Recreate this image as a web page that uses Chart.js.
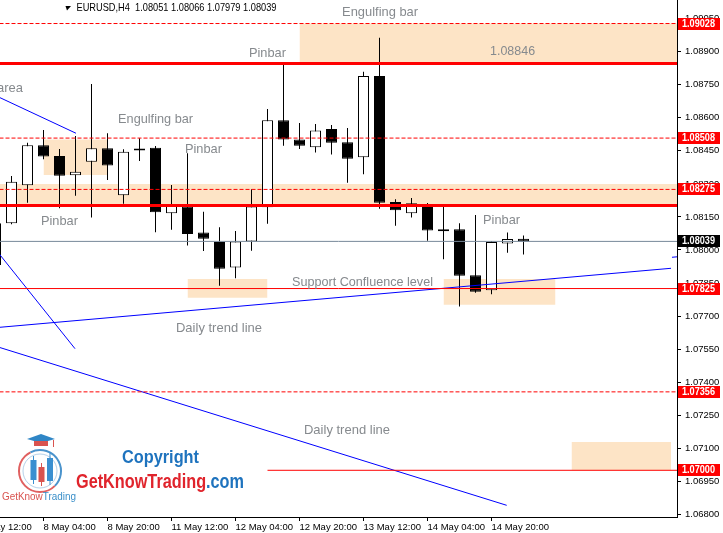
<!DOCTYPE html>
<html><head><meta charset="utf-8">
<script src="https://cdn.jsdelivr.net/npm/chart.js@4.4.1/dist/chart.umd.min.js"></script>
<style>html,body{margin:0;padding:0;background:#fff;overflow:hidden}canvas{display:block}</style>
</head><body>
<canvas id="c" width="723" height="533"></canvas>
<script>
// ---------- data ----------
const symbol = 'EURUSD,H4';
const barTimes = ['7 May 16:00','7 May 20:00','8 May 00:00','8 May 04:00','8 May 08:00','8 May 12:00','8 May 16:00','8 May 20:00',
  '11 May 00:00','11 May 04:00','11 May 08:00','11 May 12:00','11 May 16:00','11 May 20:00',
  '12 May 00:00','12 May 04:00','12 May 08:00','12 May 12:00','12 May 16:00','12 May 20:00',
  '13 May 00:00','13 May 04:00','13 May 08:00','13 May 12:00','13 May 16:00','13 May 20:00',
  '14 May 00:00','14 May 04:00','14 May 08:00','14 May 12:00','14 May 16:00','14 May 20:00',
  '15 May 00:00','15 May 04:00'];
const openP  = [1.07932,1.08121,1.08294,1.08475,1.08427,1.08339,1.08401,1.08462,1.08248,1.08452,1.08464,1.08167,1.08197,1.08079,1.08036,1.07921,1.08039,1.08194,1.08589,1.08502,1.08466,1.08549,1.08489,1.08421,1.08790,1.08218,1.08167,1.08204,1.08085,1.08094,1.07885,1.07817,1.08030,1.08051];
const highP  = [1.08130,1.08336,1.08487,1.08545,1.08458,1.08517,1.08753,1.08530,1.08457,1.08507,1.08472,1.08295,1.08439,1.08174,1.08103,1.08086,1.08276,1.08640,1.08844,1.08576,1.08572,1.08567,1.08554,1.08809,1.08964,1.08230,1.08236,1.08213,1.08197,1.08121,1.08159,1.08041,1.08079,1.08066];
const lowP   = [1.07915,1.08117,1.08215,1.08412,1.08189,1.08246,1.08147,1.08318,1.08210,1.08404,1.08080,1.08092,1.08020,1.07995,1.07838,1.07872,1.07997,1.08119,1.08473,1.08458,1.08442,1.08433,1.08305,1.08344,1.08187,1.08110,1.08147,1.08042,1.07958,1.07743,1.07806,1.07799,1.07988,1.07979];
const closeP = [1.08121,1.08310,1.08475,1.08424,1.08337,1.08355,1.08462,1.08384,1.08446,1.08461,1.08171,1.08204,1.08073,1.08051,1.07915,1.08039,1.08197,1.08589,1.08502,1.08473,1.08542,1.08487,1.08414,1.08790,1.08215,1.08180,1.08212,1.08088,1.08094,1.07883,1.07811,1.08036,1.08050,1.08039];

const xTickIdx    = [-1,3,7,11,15,19,23,27,31];
const xTickLabels = ['7 May 12:00','8 May 04:00','8 May 20:00','11 May 12:00','12 May 04:00','12 May 20:00','13 May 12:00','14 May 04:00','14 May 20:00'];
const yTicks = [1.06800,1.06950,1.07100,1.07250,1.07400,1.07550,1.07700,1.07850,1.08000,1.08150,1.08300,1.08450,1.08600,1.08750,1.08900,1.09050];

const levelPrices = [1.09028,1.08846,1.08508,1.08275,1.08202,1.07825,1.07356,1.07000];
const levelKinds  = ['dash','thick','dash','dash','thick','thin','dash','thin'];
const levelFrom   = [-5,-5,-5,-5,-5,-5,-5,17];
const levelLabels = [1.09028,1.08508,1.08275,1.07825,1.07356,1.07000];
const bidPrice = closeP[closeP.length-1];

// zones: [fromIdx, toIdx, top, bottom]
const zoneFrom = [19,-5,3,12,28,36];
const zoneTo   = [45,45,7,17,35,42.22];
const zoneTop  = [1.09028,1.08300,1.08502,1.07868,1.07868,1.07128];
const zoneBot  = [1.08846,1.08202,1.08340,1.07783,1.07752,1.07000];

// trend lines: [x1, p1, x2, p2]
const trendX1 = [-1,-1,-1,-1,42.28];
const trendP1 = [1.08735,1.08094,1.07641,1.07586,1.07967];
const trendX2 = [5.03,4.97,42.22,31.95,42.9];
const trendP2 = [1.08530,1.07552,1.07917,1.06841,1.07971];

// text notes
const noteText  = ['Engulfing bar','Pinbar','1.08846','area','Engulfing bar','Pinbar','Pinbar','Pinbar','Support Confluence level','Daily trend line','Daily trend line'];
const noteIdx   = [21.66,15.84,30.91,0.09,7.66,11.84,2.84,30.47,18.53,11.28,19.28];
const notePrice = [1.09080,1.08894,1.08903,1.08735,1.08595,1.08458,1.08132,1.08136,1.07855,1.07646,1.07183];
const noteWidth = [76,37,45,26,75,37,37,37,141,86,86];

// ---------- chart ----------
const X_MIN = 0.28125, X_MAX = 42.59375;
const Y_MIN = 1.06788, Y_MAX = 1.091348;
const FONT = 'Liberation Sans';
Chart.defaults.font.family = FONT;

const datasets = [];
datasets.push({
  type:'bar', label:'bodies', order:1, grouped:false,
  data: barTimes.map((t,i)=>({x:i, y:[openP[i], closeP[i]]})),
  backgroundColor: openP.map((o,i)=> closeP[i] >= o ? '#ffffff' : '#000000'),
  borderColor:'#000000', borderWidth:1, borderSkipped:false, barThickness:11, inflateAmount:0
});
datasets.push({
  type:'bar', label:'wicks', order:2, grouped:false,
  data: barTimes.map((t,i)=>({x:i, y:[lowP[i], highP[i]]})),
  backgroundColor:'#000000', borderWidth:0, barThickness:1, inflateAmount:0
});
zoneFrom.forEach((f,k)=>{
  datasets.push({
    type:'line', label:'zone'+k, order:10,
    data:[{x:f, y:zoneTop[k]},{x:zoneTo[k], y:zoneTop[k]}],
    borderColor:'rgba(0,0,0,0)', borderWidth:1, pointRadius:0, tension:0,
    fill:{value: zoneBot[k]}, backgroundColor:'#fde4c6'
  });
});
levelPrices.forEach((p,k)=>{
  const kind = levelKinds[k];
  datasets.push({
    type:'line', label:'level'+k, order:0,
    data:[{x:levelFrom[k], y:p},{x:50, y:p}],
    borderColor:'#ff0000', borderWidth: kind==='thick'?3:1,
    borderDash: kind==='dash'?[4,2]:[], pointRadius:0, fill:false, tension:0
  });
});
datasets.push({
  type:'line', label:'bid', order:0,
  data:[{x:-5,y:bidPrice},{x:50,y:bidPrice}],
  borderColor:'#778899', borderWidth:1, pointRadius:0, fill:false
});
trendX1.forEach((x,k)=>{
  datasets.push({
    type:'line', label:'trend'+k, order:0,
    data:[{x:x, y:trendP1[k]},{x:trendX2[k], y:trendP2[k]}],
    borderColor:'#0000ff', borderWidth:1, pointRadius:0, fill:false, tension:0
  });
});

function fitText(ctx, text, x, y, font, color, width){
  ctx.save();
  ctx.font = font;
  const w = ctx.measureText(text).width;
  ctx.translate(x, y);
  if (width) ctx.scale(width / w, 1);
  ctx.fillStyle = color; ctx.textBaseline = 'middle'; ctx.textAlign = 'left';
  ctx.fillText(text, 0, 0);
  ctx.restore();
}
function fitParts(ctx, parts, x, y, font, width){
  ctx.save();
  ctx.font = font;
  const full = parts.map(p=>p[0]).join('');
  const w = ctx.measureText(full).width;
  ctx.translate(x, y);
  ctx.scale(width / w, 1);
  ctx.textBaseline = 'middle'; ctx.textAlign = 'left';
  let cx = 0;
  parts.forEach(([t,c])=>{ ctx.fillStyle = c; ctx.fillText(t, cx, 0); cx += ctx.measureText(t).width; });
  ctx.restore();
}

function drawLogo(ctx){
  ctx.save();
  ctx.lineWidth = 2;
  ctx.strokeStyle = '#e06060';
  ctx.beginPath(); ctx.arc(40, 471, 21, Math.PI*0.25, Math.PI*1.35); ctx.stroke();
  ctx.strokeStyle = '#4a93cc';
  ctx.beginPath(); ctx.arc(40, 471, 21, Math.PI*1.35, Math.PI*2.25); ctx.stroke();
  ctx.lineWidth = 1;
  ctx.strokeStyle = 'rgba(90,150,205,0.45)';
  ctx.beginPath(); ctx.arc(40, 471, 17, 0, Math.PI*2); ctx.stroke();
  ctx.fillStyle = '#2f86c6';
  ctx.beginPath(); ctx.moveTo(27,439); ctx.lineTo(41,434); ctx.lineTo(55,439); ctx.lineTo(41,443); ctx.closePath(); ctx.fill();
  ctx.fillStyle = '#d9534f'; ctx.fillRect(34,441,14,5);
  ctx.strokeStyle = '#d9534f'; ctx.beginPath(); ctx.moveTo(53.5,440); ctx.lineTo(53.5,447); ctx.stroke();
  const cs = [[33.5,456,484,460,480,'#3a8fd0'],[41.5,463,486,467,482,'#d9534f'],[50,452,485,458,481,'#3a8fd0']];
  cs.forEach(([x,h,l,t,b,c])=>{
    ctx.strokeStyle = c; ctx.fillStyle = c;
    ctx.beginPath(); ctx.moveTo(x,h); ctx.lineTo(x,l); ctx.stroke();
    ctx.fillRect(x-3, t, 6, b-t);
  });
  ctx.restore();
  fitParts(ctx, [['GetKnow','#d9534f'],['Trading','#3a8fc9']], 2, 497, '11px '+FONT, 74);
  fitText(ctx, 'Copyright', 122, 458, 'bold 18px '+FONT, '#1e73be', 77);
  fitParts(ctx, [['GetKnowTrading','#e0242c'],['.com','#1e73be']], 76, 482, 'bold 20px '+FONT, 168);
}

const overlay = {
  id:'overlay',
  beforeDraw(chart){
    const ctx = chart.ctx; ctx.save(); ctx.fillStyle = '#fff'; ctx.fillRect(0,0,chart.width,chart.height); ctx.restore();
  },
  afterDatasetsDraw(chart){
    const ctx = chart.ctx, xs = chart.scales.x, ys = chart.scales.y;
    noteText.forEach((t,k)=>{
      fitText(ctx, t, xs.getPixelForValue(noteIdx[k]), ys.getPixelForValue(notePrice[k]), '13.5px '+FONT, '#868a8e', noteWidth[k]);
    });
    drawLogo(ctx);
  },
  afterDraw(chart){
    const ctx = chart.ctx, ys = chart.scales.y;
    ctx.save();
    ctx.fillStyle = '#000';
    ctx.beginPath(); ctx.moveTo(65.5,6); ctx.lineTo(71,6); ctx.lineTo(67,10.5); ctx.closePath(); ctx.fill();
    ctx.restore();
    const last = closeP.length-1;
    const hdr = symbol + '  ' + [openP[last],highP[last],lowP[last],closeP[last]].map(v=>v.toFixed(5)).join(' ');
    fitText(ctx, hdr, 76.5, 8, '10.5px '+FONT, '#000', 200);
    const box = (p, bg) => {
      const y = Math.round(ys.getPixelForValue(p));
      ctx.save(); ctx.fillStyle = bg; ctx.fillRect(678, y-6, 42, 12); ctx.restore();
      fitText(ctx, p.toFixed(5), 682, y, 'bold 10px '+FONT, '#fff', 33);
    };
    levelLabels.forEach(p=>box(p,'#ff0000'));
    box(bidPrice,'#000000');
  }
};

new Chart(document.getElementById('c'), {
  type:'bar',
  data:{datasets},
  options:{
    responsive:false, animation:false,
    layout:{padding:0},
    plugins:{legend:{display:false}, tooltip:{enabled:false}},
    scales:{
      x:{
        type:'linear', min:X_MIN, max:X_MAX, offset:false, bounds:'data',
        grid:{display:true, drawOnChartArea:false, drawTicks:true, tickLength:4, color:'#000', offset:false},
        border:{display:true, color:'#000', width:1},
        ticks:{autoSkip:false, maxRotation:0, align:'start', padding:1, color:'#000', font:{size:9.5, family:FONT},
          callback:(v,i)=> xTickLabels[i]},
        afterBuildTicks:(s)=>{ s.ticks = xTickIdx.map(v=>({value:v})); },
        afterFit:(s)=>{ s.height = 16; s.paddingLeft = 0; s.paddingRight = 0; }
      },
      y:{
        type:'linear', position:'right', min:Y_MIN, max:Y_MAX, bounds:'data',
        grid:{display:true, drawOnChartArea:false, drawTicks:true, tickLength:4, color:'#000'},
        border:{display:true, color:'#000', width:1},
        ticks:{autoSkip:false, padding:4, color:'#000', font:{size:9.5, family:FONT},
          callback:(v)=> Number(v).toFixed(5)},
        afterBuildTicks:(s)=>{ s.ticks = yTicks.map(v=>({value:v})); },
        afterFit:(s)=>{ s.width = 46; s.paddingTop = 0; s.paddingBottom = 0; }
      }
    }
  },
  plugins:[overlay]
});
</script>
</body></html>
